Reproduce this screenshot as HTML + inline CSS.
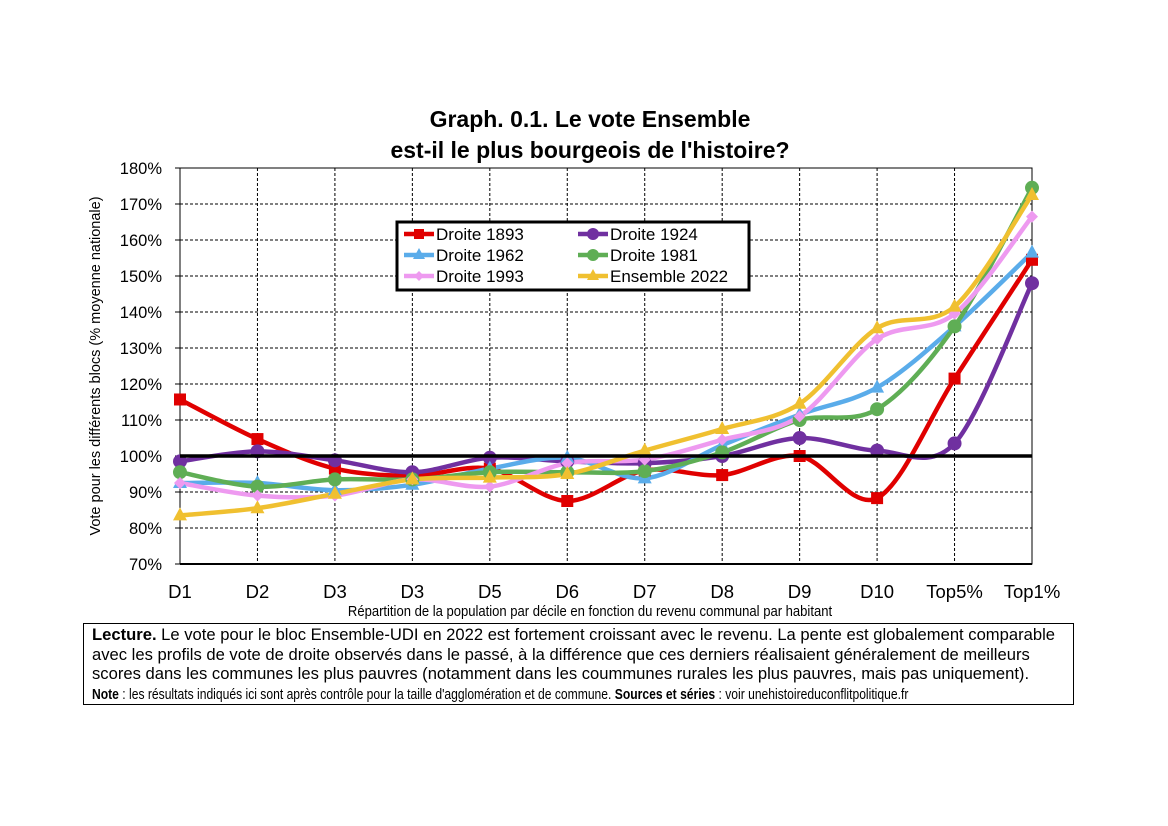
<!DOCTYPE html>
<html><head><meta charset="utf-8"><style>
body{margin:0;background:#fff;width:1168px;height:826px;overflow:hidden;font-family:"Liberation Sans",Arial,sans-serif}
#box{position:absolute;left:83px;top:623px;width:991px;height:82px;border:1.5px solid #000;box-sizing:border-box;padding:1px 8px;font-size:16.6px;line-height:19.6px;color:#000;white-space:nowrap}
.nr{display:inline-block;transform:scaleX(0.83);transform-origin:left;white-space:nowrap;font-size:14.6px}
</style></head><body>
<svg id="s" width="1168" height="826" style="position:absolute;left:0;top:0" font-family="Liberation Sans, Arial, sans-serif"></svg>
<div id="box">
<b>Lecture.</b> Le vote pour le bloc Ensemble-UDI en 2022 est fortement croissant avec le revenu. La pente est globalement comparable<br>avec les profils de vote de droite observés dans le passé, à la différence que ces derniers réalisaient généralement de meilleurs<br>scores dans les communes les plus pauvres (notamment dans les coummunes rurales les plus pauvres, mais pas uniquement).<br>
<span class="nr"><b>Note</b> : les résultats indiqués ici sont après contrôle pour la taille d'agglomération et de commune. <b>Sources et séries</b> : voir unehistoireduconflitpolitique.fr</span>
</div>
<script>
const s=document.getElementById('s');let h='';
const X0=180,DX=(1032-180)/11,Y=v=>456-(v-100)*3.6;
h+='<text x="590" y="127" text-anchor="middle" font-size="23" font-weight="bold">Graph. 0.1. Le vote Ensemble</text>';
h+='<text x="590" y="158" text-anchor="middle" font-size="23" font-weight="bold">est-il le plus bourgeois de l\'histoire?</text>';
for(let i=0;i<12;i++){let v=180-i*10,y=Y(v);
 if(i>0&&i<11)h+=`<line x1="180" x2="1032" y1="${y}" y2="${y}" stroke="#000" stroke-width="1" stroke-dasharray="3,2"/>`;
 h+=`<line x1="175" x2="180" y1="${y}" y2="${y}" stroke="#000"/>`;
 h+=`<text x="162" y="${y+6}" text-anchor="end" font-size="16.5">${v}%</text>`;}
const cats=['D1','D2','D3','D3','D5','D6','D7','D8','D9','D10','Top5%','Top1%'];
for(let i=0;i<12;i++){let x=X0+i*DX;
 if(i>0&&i<11)h+=`<line x1="${x}" x2="${x}" y1="168" y2="564" stroke="#000" stroke-width="1" stroke-dasharray="3,2"/>`;
 h+=`<text x="${x}" y="598" text-anchor="middle" font-size="18.5">${cats[i]}</text>`;}
h+='<rect x="180" y="168" width="852" height="396" fill="none" stroke="#000" stroke-width="1"/>';
h+='<line x1="180" x2="1032" y1="564" y2="564" stroke="#000" stroke-width="2"/>';
h+='<text transform="translate(100,366) rotate(-90)" text-anchor="middle" font-size="14.5">Vote pour les différents blocs (% moyenne nationale)</text>';
h+='<text x="590" y="616" text-anchor="middle" font-size="14.5" transform="translate(590,0) scale(0.9,1) translate(-590,0)">Répartition de la population par décile en fonction du revenu communal par habitant</text>';
const S=[
['#e00000','sq',[115.7,104.7,96.5,94.5,96.5,87.5,96,94.7,100,88.3,121.5,154.5],'Droite 1893'],
['#7030a0','ci',[98.5,101.3,98.8,95.5,99.5,98.5,98,100,105,101.5,103.5,148],'Droite 1924'],
['#5aacea','tr',[92.5,92.5,90.5,92,96.5,99.5,93.8,103,111.5,119,136,156.5],'Droite 1962'],
['#5fae55','ci',[95.5,91.5,93.5,93.5,95.5,95.5,95.8,101,110,113,136,174.5],'Droite 1981'],
['#ee9af0','di',[92.5,89,89,93.5,91.5,98,99,104.5,111,132.5,139.5,166.5],'Droite 1993'],
['#f0c030','tr',[83.5,85.5,89.5,93.5,94,95,101.5,107.5,114.5,135.5,141.5,172.5],'Ensemble 2022']];
function mk(t,x,y,c,r){r=r||6;
 if(t=='sq')return `<rect x="${x-r}" y="${y-r}" width="${2*r}" height="${2*r}" fill="${c}"/>`;
 if(t=='ci')return `<circle cx="${x}" cy="${y}" r="${r+1}" fill="${c}"/>`;
 if(t=='tr')return `<polygon points="${x},${y-r-2} ${x+r+1},${y+r-1} ${x-r-1},${y+r-1}" fill="${c}"/>`;
 return `<polygon points="${x},${y-r} ${x+r},${y} ${x},${y+r} ${x-r},${y}" fill="${c}"/>`;}
let lines='',marks='';
S.forEach(([c,t,d])=>{const p=d.map((v,i)=>[X0+i*DX,Y(v)]);let str=`M${p[0][0]},${p[0][1]}`;
 for(let i=0;i<p.length-1;i++){const p0=p[i-1]||p[i],p1=p[i],p2=p[i+1],p3=p[i+2]||p2,k=0.16;
  str+=` C${p1[0]+(p2[0]-p0[0])*k},${p1[1]+(p2[1]-p0[1])*k} ${p2[0]-(p3[0]-p1[0])*k},${p2[1]-(p3[1]-p1[1])*k} ${p2[0]},${p2[1]}`;}
 lines+=`<path d="${str}" fill="none" stroke="${c}" stroke-width="4.5"/>`;
 p.forEach(q=>marks+=mk(t,q[0],q[1],c));});
h+=lines+marks;
h+='<line x1="180" x2="1032" y1="456" y2="456" stroke="#000" stroke-width="3.5"/>';
h+='<rect x="397" y="222" width="352" height="68" fill="#fff" stroke="#000" stroke-width="3"/>';
S.forEach(([c,t,d,n],i)=>{const col=i%2,row=Math.floor(i/2),x=404+col*174,y=234+row*21;
 h+=`<line x1="${x}" x2="${x+30}" y1="${y}" y2="${y}" stroke="${c}" stroke-width="4.5"/>`+mk(t,x+15,y,c,5);
 h+=`<text x="${x+32}" y="${y+6}" font-size="17">${n}</text>`;});
s.innerHTML=h;
</script>
</body></html>
